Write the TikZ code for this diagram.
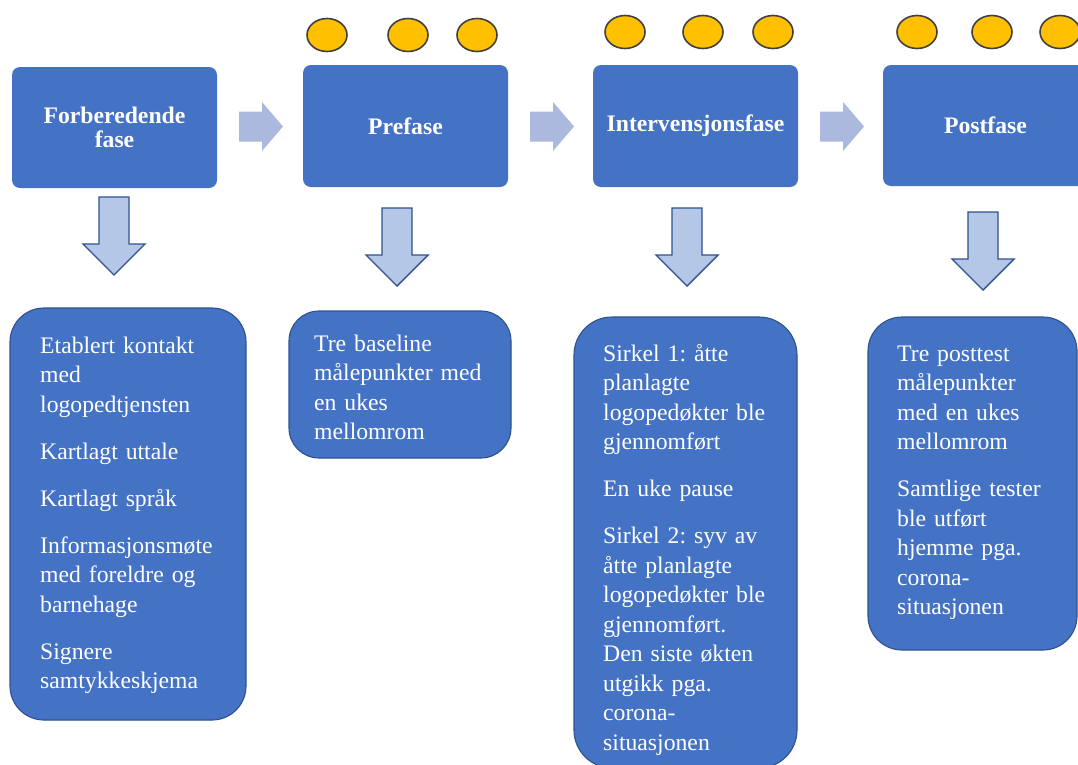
\documentclass[tikz,border=0pt]{standalone}
\usepackage{fontspec}
\setmainfont{Liberation Serif}
\frenchspacing
\usetikzlibrary{shapes.geometric,calc}
\definecolor{boxblue}{HTML}{4472C4}
\definecolor{edgeblue}{HTML}{2F528F}
\definecolor{lightarr}{HTML}{B4C7E7}
\definecolor{softarr}{HTML}{ABB9DE}
\definecolor{dotfill}{HTML}{FFC000}
\definecolor{dotedge}{HTML}{404040}
\tikzset{
  phase/.style={fill=boxblue, rounded corners=8pt, inner sep=0pt, text=white,
    font=\fontsize{23.7}{24.5}\selectfont\bfseries, align=center,
    minimum width=205pt, minimum height=121pt},
  infobox/.style={fill=boxblue, draw=edgeblue, line width=1.1pt, rounded corners=34pt, inner sep=0pt},
  bodytext/.style={text=white, inner sep=0pt, text width=205pt, align=left, anchor=north west,
    font=\fontsize{23.7}{29.5}\selectfont\frenchspacing},
  dot/.style={ellipse, fill=dotfill, draw=dotedge, line width=1.6pt, minimum width=40pt, minimum height=33pt, inner sep=0pt},
  downstyle/.style={fill=lightarr, draw=edgeblue, line width=1.4pt, line join=miter},
  rightstyle/.style={fill=softarr},
  downblk/.pic={\path[downstyle] (-15,0)--(15,0)--(15,47)--(31,47)--(0,78)--(-31,47)--(-15,47)--cycle;},
  rightblk/.pic={\path[rightstyle] (0,-15)--(23,-15)--(23,-24.5)--(44,0)--(23,24.5)--(23,15)--(0,15)--cycle;}
}
\begin{document}
\begin{tikzpicture}[x=1pt,y=-1pt]
\useasboundingbox (0,0) rectangle (1078,764);
\clip (0,0) rectangle (1078,764);
\fill[white] (0,0) rectangle (1078,764);

% phase boxes
\node[phase] (p1) at (114.5,127.5) {Forberedende\\fase};
\node[phase, minimum height=122pt] (p2) at (405.5,126) {Prefase};
\node[phase, minimum height=122pt] (p3) at (695.5,126) {Intervensjonsfase};
\node[phase] (p4) at (985.5,125.5) {Postfase};

% measurement dots
\node[dot] (d21) at (327,35) {};
\node[dot] (d22) at (408,35) {};
\node[dot] (d23) at (477,35) {};
\node[dot] (d31) at (625,32) {};
\node[dot] (d32) at (703,32) {};
\node[dot] (d33) at (773,32) {};
\node[dot] (d41) at (917,32) {};
\node[dot] (d42) at (992,32) {};
\node[dot] (d43) at (1060,32) {};

% right block arrows
\coordinate (r1) at (239,126.5);
\coordinate (r2) at (530,126.5);
\coordinate (r3) at (820,126.5);
\pic at (r1) {rightblk};
\pic at (r2) {rightblk};
\pic at (r3) {rightblk};

% down block arrows
\coordinate (a1) at (114,197);
\coordinate (a2) at (397,208);
\coordinate (a3) at (687,208);
\coordinate (a4) at (983,212);
\pic at (a1) {downblk};
\pic at (a2) {downblk};
\pic at (a3) {downblk};
\pic at (a4) {downblk};

% info boxes
\node[infobox, minimum width=236pt, minimum height=412pt] (bA) at (128,514) {};
\node[infobox, minimum width=222pt, minimum height=147pt, rounded corners=30pt] (bB) at (400,384.5) {};
\node[infobox, minimum width=223pt, minimum height=451pt, rounded corners=38pt] (bC) at (685.5,542.5) {};
\node[infobox, minimum width=209pt, minimum height=333pt] (bD) at (972.5,483.5) {};

\node[bodytext] (tA) at (40,332.4) {\strut Etablert kontakt\\med\\logopedtjensten\\[17.5pt]Kartlagt uttale\\[17.5pt]Kartlagt språk\\[17.5pt]Informasjonsmøte\\med foreldre og\\barnehage\\[17.5pt]Signere\\samtykkeskjema};
\node[bodytext] (tB) at (314,330.4) {\strut Tre baseline\\målepunkter med\\en ukes\\mellomrom};
\node[bodytext] (tC) at (603,340.4) {\strut Sirkel 1: åtte\\planlagte\\logopedøkter ble\\gjennomført\\[17.5pt]En uke pause\\[17.5pt]Sirkel 2: syv av\\åtte planlagte\\logopedøkter ble\\gjennomført.\\Den siste økten\\utgikk pga.\\corona-\\situasjonen};
\node[bodytext] (tD) at (897,340.4) {\strut Tre posttest\\målepunkter\\med en ukes\\mellomrom\\[17.5pt]Samtlige tester\\ble utført\\hjemme pga.\\corona-\\situasjonen};
\end{tikzpicture}
\end{document}
